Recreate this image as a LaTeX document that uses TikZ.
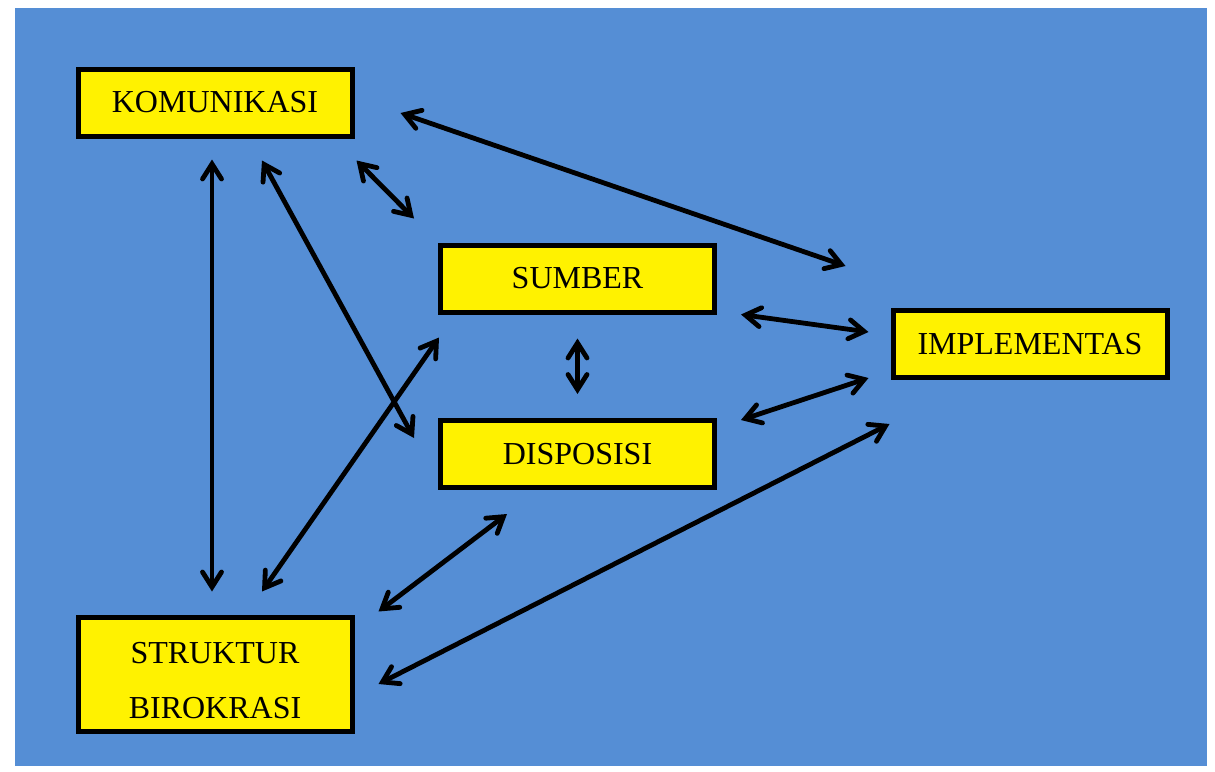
\documentclass[tikz,border=0pt]{standalone}
\usepackage{fontspec}
\setmainfont{Liberation Serif}
\usepackage{xcolor}
\usetikzlibrary{positioning, arrows.meta}
\definecolor{bgblue}{RGB}{85,142,213}

\begin{document}
\begin{tikzpicture}[
    x=0.5pt, y=-0.5pt,
    every node/.style={font=\fontsize{16}{27.5}\selectfont},
    block/.style={rectangle, draw, line width=2.5pt, fill=yellow, minimum width=137pt, minimum height=#1, align=center, inner sep=0pt},
    block/.default=33.5pt,
    arr/.style={{Straight Barb[length=7.5pt, width=9.5pt, line cap=round]}-{Straight Barb[length=7.5pt, width=9.5pt, line cap=round]}, line width=2.4pt, line cap=round},
]
    \useasboundingbox (0,0) rectangle (1215,771);
    \fill[bgblue] (15,8) rectangle (1207,766);

    \node[block] (kom) at (215,102.5) {KOMUNIKASI};
    \node[block] (sumber) at (577.5,278.5) {SUMBER};
    \node[block] (disp) at (577.5,454) {DISPOSISI};
    \node[block] (impl) at (1030,344) {IMPLEMENTAS};
    \node[block=57pt] (struk) at (215,674) {\rule{0pt}{17pt}STRUKTUR\\BIROKRASI};

    \draw[arr] ([shift={(46,10.5)}]kom.east) -- ([shift={(-45,-42)}]impl.north west);
    \draw[arr] ([shift={(2,22)}]kom.south east) -- ([shift={(-24,-24)}]sumber.north west);
    \draw[arr] ([shift={(-3,21)}]kom.south) -- ([shift={(-3,-23)}]struk.north);
    \draw[arr] ([shift={(47,22)}]kom.south) -- ([shift={(-24,-16)}]disp.west);
    \draw[arr] ([shift={(47,-23)}]struk.north) -- ([shift={(1,23)}]sumber.south west);
    \draw[arr] ([shift={(0,24)}]sumber.south) -- ([shift={(0,-24)}]disp.north);
    \draw[arr] ([shift={(24,0)}]sumber.south east) -- ([shift={(-22,-12)}]impl.west);
    \draw[arr] ([shift={(24,2)}]disp.north east) -- ([shift={(-22,-2)}]impl.south west);
    \draw[arr] ([shift={(24,-3)}]struk.north east) -- ([shift={(-70.5,24)}]disp.south);
    \draw[arr] ([shift={(24,10)}]struk.east) -- ([shift={(-1,44)}]impl.south west);
\end{tikzpicture}
\end{document}
